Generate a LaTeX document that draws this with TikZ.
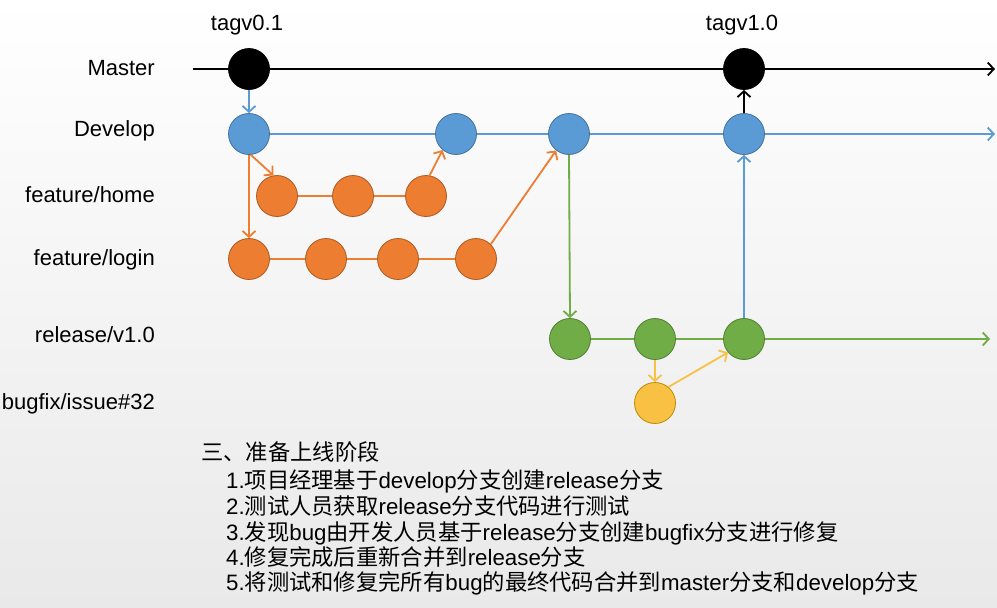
\documentclass[tikz,border=0pt]{standalone}
\usepackage{fontspec}
\setmainfont{Liberation Sans}
\newfontfamily\cjkfont{Noto Sans CJK SC}
\usetikzlibrary{arrows.meta}
\newcommand\zhw[1]{{\cjkfont #1}}
\definecolor{blueF}{RGB}{91,155,213}
\definecolor{blueD}{RGB}{65,113,156}
\definecolor{orangeF}{RGB}{237,125,49}
\definecolor{orangeD}{RGB}{174,90,33}
\definecolor{greenF}{RGB}{112,173,71}
\definecolor{greenD}{RGB}{80,126,50}
\definecolor{yellowF}{RGB}{249,193,68}
\definecolor{yellowD}{RGB}{188,140,0}
\definecolor{bgbot}{RGB}{233,233,233}
\pgfdeclarelayer{back}
\pgfdeclarelayer{lines}
\pgfsetlayers{back,lines,main}
\begin{document}
\begin{tikzpicture}[x=1pt,y=-1pt,
  commit/.style={circle,minimum size=41pt,inner sep=0pt,line width=0.8pt},
  mc/.style={commit,fill=black,draw=black},
  dc/.style={commit,fill=blueF,draw=blueD},
  fc/.style={commit,fill=orangeF,draw=orangeD},
  rc/.style={commit,fill=greenF,draw=greenD},
  bc/.style={commit,fill=yellowF,draw=yellowD},
  lbl/.style={anchor=east,inner sep=0pt,font=\fontsize{22}{26}\selectfont,text height=16pt,text depth=5pt},
  tag/.style={inner sep=0pt,font=\fontsize{22}{26}\selectfont,text height=16pt,text depth=5pt},
  txt/.style={anchor=west,inner sep=0pt,font=\fontsize{22.3}{26}\selectfont,text height=17pt,text depth=5pt},
  conn/.style={line width=1.8pt},
  arr/.style={conn,-{Straight Barb[length=6pt,width=13pt]}},
]
\begin{pgfonlayer}{back}
\shade[top color=white,bottom color=bgbot] (0,0) rectangle (997,608);
\end{pgfonlayer}
\useasboundingbox (0,0) rectangle (997,608);

% labels
\node[lbl] (lmaster) at (155,70) {Master};
\node[lbl] (ldev) at (155,131) {Develop};
\node[lbl] (lhome) at (155,197) {feature/home};
\node[lbl] (llogin) at (155,260) {feature/login};
\node[lbl] (lrel) at (155,337) {release/v1.0};
\node[lbl] (lbug) at (155,404) {bugfix/issue\#32};
\node[tag] (tag1) at (247,25) {tagv0.1};
\node[tag] (tag2) at (742,25) {tagv1.0};

% commits
\node[mc] (m1) at (249,69) {};
\node[mc] (m2) at (744,69) {};
\node[dc] (d1) at (249,134) {};
\node[dc] (d2) at (456,134) {};
\node[dc] (d3) at (569,134) {};
\node[dc] (d4) at (744,134) {};
\node[fc] (h1) at (277,196) {};
\node[fc] (h2) at (353,196) {};
\node[fc] (h3) at (426,196) {};
\node[fc] (g1) at (249,259) {};
\node[fc] (g2) at (326,259) {};
\node[fc] (g3) at (398,259) {};
\node[fc] (g4) at (476,259) {};
\node[rc] (r1) at (570,339) {};
\node[rc] (r2) at (655,339) {};
\node[rc] (r3) at (744,339) {};
\node[bc] (b1) at (655,403) {};

\coordinate (mstart) at (193,69);
\coordinate (mend) at (995,69);
\coordinate (dend) at (995,134);
\coordinate (rend) at (990,339);

\begin{pgfonlayer}{lines}
\draw[arr,black] (mstart) -- (mend);
\draw[arr,blueF] (d1.center) -- (dend);
\draw[conn,orangeF] (h1.center) -- (h3.center);
\draw[conn,orangeF] (g1.center) -- (g4.center);
\draw[arr,greenF] (r1.center) -- (rend);
\end{pgfonlayer}

\draw[arr,blueF] (m1.south) -- (d1.north);
\draw[arr,orangeF] (d1.-85) -- (h1.100);
\draw[arr,orangeF] (d1.south) -- (g1.north);
\draw[arr,orangeF] (h3.80) -- (d2.-130);
\draw[arr,orangeF] (g4.north east) -- (d3.-128);
\draw[arr,greenF] (d3.south) -- (r1.north);
\draw[arr,yellowF] (r2.south) -- (b1.north);
\draw[arr,yellowF] (b1.50) -- (r3.-140);
\draw[arr,blueF] (r3.north) -- (d4.south);
\draw[arr,black] (d4.north) -- (m2.south);

% text
\node[txt] (t0) at (201,454) {\zhw{三、准备上线阶段}};
\node[txt] (t1) at (226,482) {1.\zhw{项目经理基于}develop\zhw{分支创建}release\zhw{分支}};
\node[txt] (t2) at (226,508) {2.\zhw{测试人员获取}release\zhw{分支代码进行测试}};
\node[txt] (t3) at (226,534) {3.\zhw{发现}bug\zhw{由开发人员基于}release\zhw{分支创建}bugfix\zhw{分支进行修复}};
\node[txt] (t4) at (226,559) {4.\zhw{修复完成后重新合并到}release\zhw{分支}};
\node[txt] (t5) at (226,584) {5.\zhw{将测试和修复完所有}bug\zhw{的最终代码合并到}master\zhw{分支和}develop\zhw{分支}};
\end{tikzpicture}
\end{document}
